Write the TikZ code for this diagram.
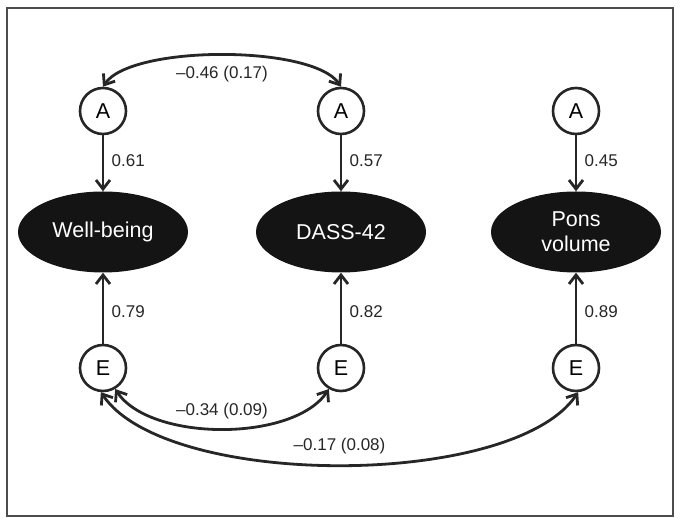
\documentclass[tikz,border=0pt]{standalone}
\usepackage{fontspec}
\setmainfont{Liberation Sans}
\usepackage{tikz}
\usetikzlibrary{
  positioning,
  arrows.meta,
  shapes.geometric
}

\begin{document}
\begin{tikzpicture}[
      x=1pt, y=1pt,
      node distance=238pt,
      trait/.style={ellipse, fill=black!92, text=white, minimum width=170pt, minimum height=81pt, inner sep=0pt, align=center, font=\fontsize{21.5}{25}\selectfont},
      latent/.style={circle, draw=black!85, line width=2.6pt, fill=white, minimum size=46pt, inner sep=0pt, font=\fontsize{21.5}{25}\selectfont},
      load/.style={-{Straight Barb[length=9pt,width=14pt]}, line width=2.8pt, draw=black!85},
      cov/.style={{Straight Barb[length=9pt,width=14pt]}-{Straight Barb[length=9pt,width=14pt]}, line width=2.8pt, draw=black!85},
      coef/.style={font=\fontsize{17}{20}\selectfont, text=black!85}
    ]
      \useasboundingbox (0,0) rectangle (682,526);
      \draw[black!70, line width=1.4pt] (7,10) rectangle (673,518);

      % Traits
      \node[trait] (wb) at (103,294) {Well-being};
      \node[trait, right of=wb] (dass) {DASS-42};
      \node[trait, node distance=235pt, right of=dass] (pons) {Pons\\volume};

      % Genetic and environmental factors
      \node[latent, node distance=121pt, above of=wb] (aW) {A};
      \node[latent, node distance=121pt, above of=dass] (aD) {A};
      \node[latent, node distance=121pt, above of=pons] (aP) {A};
      \node[latent, node distance=136pt, below of=wb] (eW) {E};
      \node[latent, node distance=136pt, below of=dass] (eD) {E};
      \node[latent, node distance=136pt, below of=pons] (eP) {E};

      % Loadings
      \draw[load] (aW) -- node[coef, right=4pt, pos=0.45] {0.61} (wb);
      \draw[load] (aD) -- node[coef, right=4pt, pos=0.45] {0.57} (dass);
      \draw[load] (aP) -- node[coef, right=4pt, pos=0.45] {0.45} (pons);
      \draw[load] (eW) -- node[coef, right=4pt, pos=0.45] {0.79} (wb);
      \draw[load] (eD) -- node[coef, right=4pt, pos=0.45] {0.82} (dass);
      \draw[load] (eP) -- node[coef, right=4pt, pos=0.45] {0.89} (pons);

      % Covariances
      \draw[cov] (aD.north) .. controls +(-28,42) and +(28,42) .. node[coef, below=6pt] {\textendash0.46 (0.17)} (aW.north);
      \draw[cov] (eW.-60) .. controls +(35,-53) and +(-35,-53) .. node[coef, above=5pt] {\textendash0.34 (0.09)} (eD.-120);
      \draw[cov] (eW.-95) .. controls +(65,-97) and +(-65,-97) .. node[coef, above=6pt] {\textendash0.17 (0.08)} (eP.-85);
    \end{tikzpicture}
\end{document}
